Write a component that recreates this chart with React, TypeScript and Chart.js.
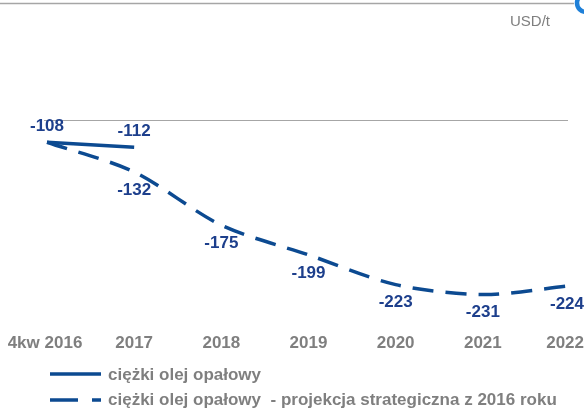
import React, { useEffect, useRef } from "react";
import { Chart, registerables } from "chart.js";

Chart.register(...registerables);

const categories = ["4kw 2016", "2017", "2018", "2019", "2020", "2021", "2022"];
const actualValues: (number | null)[] = [-108, -112, null, null, null, null, null];
const projectionValues: number[] = [-108, -132, -175, -199, -223, -231, -224];
const seriesNames = [
  "ciężki olej opałowy",
  "ciężki olej opałowy  - projekcja strategiczna z 2016 roku",
];
const unitLabel = "USD/t";

const W = 584;
const H = 410;
const BLUE = "#0c4a91";
const LABEL_BLUE = "#1d3f8c";
const GRAY_TEXT = "#7f7f7f";
const FONT = '"Liberation Sans", Arial, sans-serif';

const decorPlugin = {
  id: "decor",
  beforeDatasetsDraw(chart: any) {
    const ctx = chart.ctx;
    const area = chart.chartArea;
    ctx.save();
    ctx.strokeStyle = "#a6a6a6";
    ctx.lineWidth = 1.5;
    ctx.beginPath();
    ctx.moveTo(0, 3.5);
    ctx.lineTo(574, 3.5);
    ctx.stroke();
    ctx.strokeStyle = "#a6a6a6";
    ctx.lineWidth = 1.2;
    ctx.beginPath();
    ctx.moveTo(area.left - 3, area.top + 0.5);
    ctx.lineTo(area.right - 2, area.top + 0.5);
    ctx.stroke();
    ctx.strokeStyle = "#1f80d8";
    ctx.lineWidth = 4.5;
    ctx.beginPath();
    ctx.arc(586, 3, 9, 0, Math.PI * 2);
    ctx.stroke();
    ctx.fillStyle = GRAY_TEXT;
    ctx.font = `15px ${FONT}`;
    ctx.textAlign = "left";
    ctx.textBaseline = "middle";
    ctx.fillText(unitLabel, 510, 22);
    ctx.restore();
  },
  afterDatasetsDraw(chart: any) {
    const ctx = chart.ctx;
    const xScale = chart.scales.x;
    ctx.save();
    ctx.font = `bold 17px ${FONT}`;
    ctx.fillStyle = GRAY_TEXT;
    ctx.textBaseline = "middle";
    ctx.textAlign = "center";
    categories.forEach((c, i) => {
      const w = ctx.measureText(c).width;
      let x = xScale.getPixelForValue(i);
      if (i === 0) x -= 2;
      x = Math.min(x, W - w / 2);
      x = Math.max(x, w / 2 + 2);
      ctx.fillText(c, x, 343);
    });
    ctx.font = `bold 17px ${FONT}`;
    ctx.fillStyle = LABEL_BLUE;
    const drawLabels = (dsIndex: number, dy: number, skipFirst: boolean) => {
      const meta = chart.getDatasetMeta(dsIndex);
      const data = chart.data.datasets[dsIndex].data;
      meta.data.forEach((pt: any, i: number) => {
        if (data[i] === null || data[i] === undefined) return;
        if (skipFirst && i === 0) return;
        const txt = String(data[i]);
        const w = ctx.measureText(txt).width;
        let x = pt.x;
        x = Math.min(x, W - w / 2);
        ctx.fillText(txt, x, pt.y + dy);
      });
    };
    drawLabels(0, -16, false);
    drawLabels(1, 18, true);
    ctx.font = `bold 17px ${FONT}`;
    ctx.fillStyle = GRAY_TEXT;
    ctx.textAlign = "left";
    ctx.strokeStyle = BLUE;
    ctx.lineWidth = 3.5;
    ctx.beginPath();
    ctx.setLineDash([]);
    ctx.moveTo(50, 374);
    ctx.lineTo(101, 374);
    ctx.stroke();
    ctx.fillText(seriesNames[0], 108, 375);
    ctx.beginPath();
    ctx.setLineDash([28, 14]);
    ctx.moveTo(50, 400);
    ctx.lineTo(101, 400);
    ctx.stroke();
    ctx.setLineDash([]);
    ctx.fillText(seriesNames[1], 108, 400);
    ctx.restore();
  },
};

export default function App() {
  const ref = useRef<HTMLCanvasElement | null>(null);
  useEffect(() => {
    document.body.style.margin = "0";
    const canvas = ref.current;
    if (!canvas) return;
    const chart = new Chart(canvas, {
      type: "line",
      data: {
        labels: categories,
        datasets: [
          {
            label: seriesNames[0],
            data: actualValues,
            borderColor: BLUE,
            borderWidth: 3.5,
            pointRadius: 0,
            tension: 0.3,
            spanGaps: false,
            clip: false as any,
            order: 0,
          },
          {
            label: seriesNames[1],
            data: projectionValues,
            borderColor: BLUE,
            borderWidth: 3.5,
            borderDash: [21, 12],
            pointRadius: 0,
            tension: 0.3,
            clip: false as any,
            order: 1,
          },
        ],
      },
      options: {
        responsive: false,
        animation: false,
        layout: { padding: { left: 47, right: 14, top: 120, bottom: 92 } },
        plugins: { legend: { display: false }, tooltip: { enabled: false } },
        scales: {
          x: { display: false, offset: false },
          y: { display: false, min: -250, max: -90 },
        },
      },
      plugins: [decorPlugin],
    });
    return () => chart.destroy();
  }, []);
  return (
    <div style={{ width: W, height: H }}>
      <canvas ref={ref} width={W} height={H} style={{ display: "block" }} />
    </div>
  );
}
